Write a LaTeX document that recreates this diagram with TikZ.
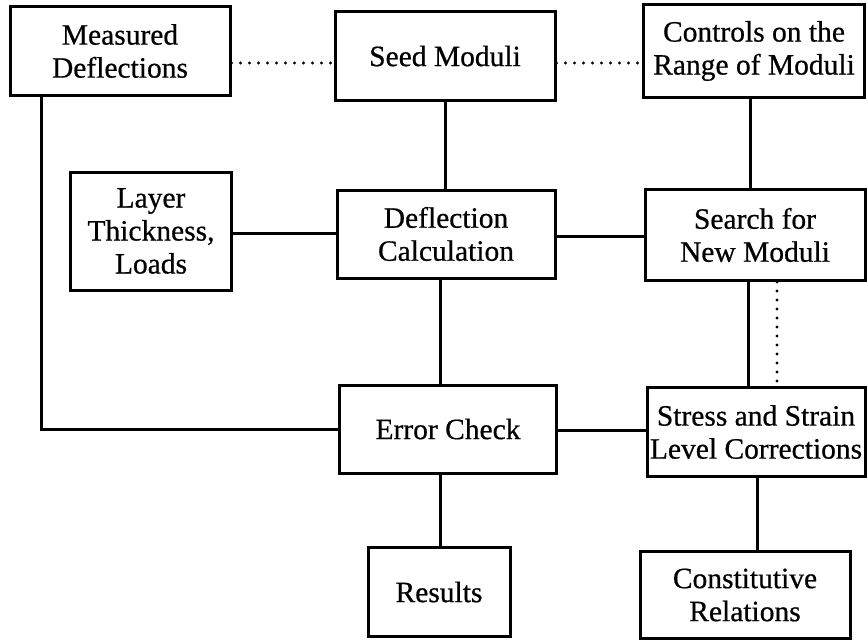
\documentclass[tikz,border=0pt]{standalone}
\usepackage{fontspec}
\setmainfont{Liberation Serif}
\newfontfamily\scanfont[FakeBold=0.6]{Liberation Serif}
\begin{document}
\begin{tikzpicture}[x=1pt,y=-1pt,
  box/.style={draw, line width=3pt, align=center, inner sep=0pt, font=\scanfont\fontsize{29.5}{33}\selectfont},
  link/.style={line width=3pt},
  dotlink/.style={line width=3.2pt, line cap=round, dash pattern=on 0pt off 9pt}]
\useasboundingbox (0,0) rectangle (867,642);
% row 1
\node[box, minimum width=220pt, minimum height=88pt] (md) at (120,51) {Measured\\Deflections};
\node[box, minimum width=220pt, minimum height=88pt] (seed) at (445,56) {Seed Moduli};
\node[box, minimum width=221pt, minimum height=92pt] (ctrl) at (754,51) {Controls on the\\Range of Moduli};
% row 2
\node[box, minimum width=161pt, minimum height=118pt] (layer) at (151,231) {Layer\\Thickness,\\Loads};
\node[box, minimum width=218pt, minimum height=88pt] (defl) at (446,234) {Deflection\\Calculation};
\node[box, minimum width=220pt, minimum height=91pt] (search) at (755,235) {Search for\\New Moduli};
% row 3
\node[box, minimum width=217pt, minimum height=88pt] (err) at (448,429) {Error Check};
\node[box, minimum width=218pt, minimum height=89pt] (stress) at (756,432) {Stress and Strain\\Level Corrections};
% row 4
\node[box, minimum width=142pt, minimum height=89pt] (res) at (439,592) {Results};
\node[box, minimum width=210pt, minimum height=87pt] (const) at (745,595) {Constitutive\\Relations};
% dotted links
\draw[dotlink] (md.east |- 0,63) -- (seed.west |- 0,63);
\draw[dotlink] (seed.east |- 0,63) -- (ctrl.west |- 0,63);
\draw[dotlink] (search.south -| 777,0) -- (stress.north -| 777,0);
% solid links
\draw[link] (seed.south -| 445,0) -- (defl.north -| 445,0);
\draw[link] (ctrl.south -| 750,0) -- (search.north -| 750,0);
\draw[link] (layer.east |- 0,233) -- (defl.west |- 0,233);
\draw[link] (defl.east |- 0,236) -- (search.west |- 0,236);
\draw[link] (defl.south -| 440,0) -- (err.north -| 440,0);
\draw[link] (search.south -| 748,0) -- (stress.north -| 748,0);
\draw[link] (md.south -| 41,0) |- (err.west);
\draw[link] (err.east |- 0,430) -- (stress.west |- 0,430);
\draw[link] (err.south -| 440,0) -- (res.north -| 440,0);
\draw[link] (stress.south -| 757,0) -- (const.north -| 757,0);
\end{tikzpicture}
\end{document}
